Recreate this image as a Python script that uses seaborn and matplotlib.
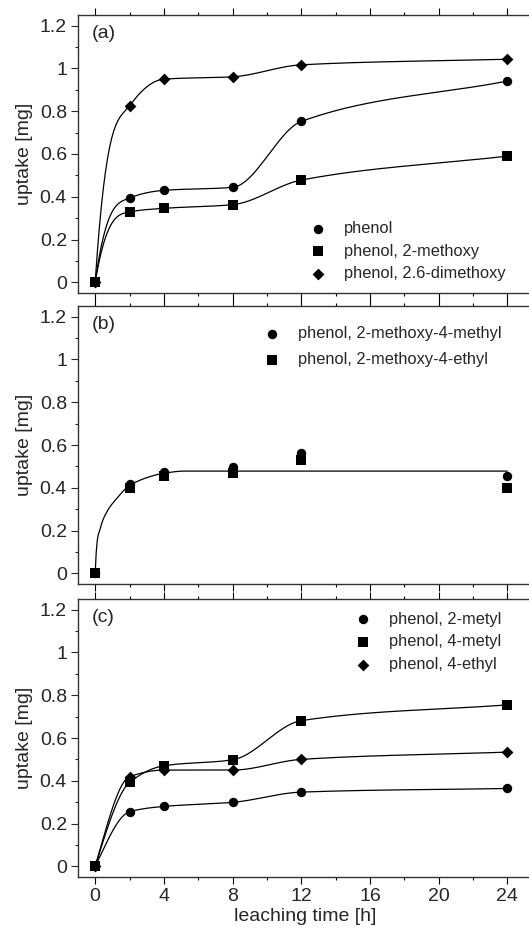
import numpy as np
import matplotlib
matplotlib.use("Agg")
import matplotlib.pyplot as plt
import seaborn as sns

# ---------------- data ----------------
time_h = [0, 2, 4, 8, 12, 24]

# panel (a)
a_phenol = [0, 0.394, 0.430, 0.444, 0.752, 0.941]
a_methoxy = [0, 0.329, 0.346, 0.363, 0.478, 0.590]
a_dimethoxy = [0, 0.826, 0.950, 0.961, 1.017, 1.043]

# panel (b)
b_methoxy_methyl = [0, 0.418, 0.476, 0.498, 0.563, 0.457]
b_methoxy_ethyl = [0, 0.397, 0.454, 0.467, 0.529, 0.397]
# fitted curve of panel (b), nodes
b_fit_x = [0, 0.3, 0.7, 1.2, 2, 3, 4, 5.2, 24]
b_fit_y = [0, 0.21, 0.29, 0.345, 0.41, 0.447, 0.468, 0.478, 0.478]

# panel (c)
c_2metyl = [0, 0.255, 0.280, 0.299, 0.347, 0.364]
c_4metyl = [0, 0.392, 0.470, 0.498, 0.681, 0.755]
c_4ethyl = [0, 0.419, 0.450, 0.450, 0.500, 0.534]

x_ticks = [0, 4, 8, 12, 16, 20, 24]
y_ticks = [0, 0.2, 0.4, 0.6, 0.8, 1.0, 1.2]
y_tick_labels = ["0", "0.2", "0.4", "0.6", "0.8", "1", "1.2"]


def hermite_curve(x, y, n=400, start_alpha=2.9):
    """Monotone cubic Hermite (PCHIP-like) with adjustable start slope."""
    x = np.asarray(x, float)
    y = np.asarray(y, float)
    h = np.diff(x)
    d = np.diff(y) / h
    m = np.zeros_like(x)
    for k in range(1, len(x) - 1):
        if d[k - 1] * d[k] <= 0:
            m[k] = 0.0
        else:
            w1 = 2 * h[k] + h[k - 1]
            w2 = h[k] + 2 * h[k - 1]
            m[k] = (w1 + w2) / (w1 / d[k - 1] + w2 / d[k])
    beta = m[1] / d[0] if d[0] != 0 else 0
    m[0] = d[0] * min(start_alpha, np.sqrt(max(9 - beta ** 2, 0)))
    m[-1] = d[-1]
    xs = np.linspace(x[0], x[-1], n)
    ys = np.empty_like(xs)
    idx = np.clip(np.searchsorted(x, xs, side="right") - 1, 0, len(x) - 2)
    for j, (xv, i) in enumerate(zip(xs, idx)):
        t = (xv - x[i]) / h[i]
        h00 = 2 * t**3 - 3 * t**2 + 1
        h10 = t**3 - 2 * t**2 + t
        h01 = -2 * t**3 + 3 * t**2
        h11 = t**3 - t**2
        ys[j] = h00 * y[i] + h10 * h[i] * m[i] + h01 * y[i + 1] + h11 * h[i] * m[i + 1]
    return xs, ys


sns.set_style("ticks")
plt.rcParams["font.family"] = ["Liberation Sans", "DejaVu Sans"]

W, H = 529, 930
fig = plt.figure(figsize=(W / 100, H / 100), dpi=100)

left_px = 78
right_px = 533
panels_px = [(15, 293), (306, 584), (599, 877)]
axes = []
for top, bot in panels_px:
    ax = fig.add_axes([left_px / W, 1 - bot / H, (right_px - left_px) / W, (bot - top) / H])
    axes.append(ax)

lw = 0.9
msz = {"o": 46, "s": 44, "D": 36}
fs_tick = 14
fs_leg = 11.8


def draw_series(ax, yvals, marker, label, curve=True, alpha0=2.9):
    if curve:
        xs, ys = hermite_curve(time_h, yvals, start_alpha=alpha0)
        sns.lineplot(x=xs, y=ys, ax=ax, color="black", lw=lw, estimator=None, sort=False)
    sns.scatterplot(x=time_h, y=yvals, ax=ax, marker=marker, s=msz[marker],
                    color="black", edgecolor="black", linewidth=0, label=label, zorder=5)


leg_kw = dict(frameon=False, fontsize=fs_leg, handletextpad=1.0, borderpad=0,
              handlelength=1.2, borderaxespad=0)

# panel a
ax = axes[0]
draw_series(ax, a_phenol, "o", "phenol")
draw_series(ax, a_methoxy, "s", "phenol, 2-methoxy")
draw_series(ax, a_dimethoxy, "D", "phenol, 2.6-dimethoxy")
ax.legend(loc="upper left", bbox_to_anchor=(0.505, 0.259), labelspacing=0.47, **leg_kw)

# panel b
ax = axes[1]
fx, fy = hermite_curve(b_fit_x, b_fit_y, start_alpha=2.9)
sns.lineplot(x=fx, y=fy, ax=ax, color="black", lw=lw, estimator=None, sort=False)
draw_series(ax, b_methoxy_methyl, "o", "phenol, 2-methoxy-4-methyl", curve=False)
draw_series(ax, b_methoxy_ethyl, "s", "phenol, 2-methoxy-4-ethyl", curve=False)
ax.legend(loc="upper left", bbox_to_anchor=(0.404, 0.927), labelspacing=0.66, **leg_kw)

# panel c
ax = axes[2]
draw_series(ax, c_2metyl, "o", "phenol, 2-metyl", alpha0=1.3)
draw_series(ax, c_4metyl, "s", "phenol, 4-metyl", alpha0=1.3)
draw_series(ax, c_4ethyl, "D", "phenol, 4-ethyl", alpha0=1.3)
ax.legend(loc="upper left", bbox_to_anchor=(0.604, 0.954), labelspacing=0.47, **leg_kw)

labels = ["(a)", "(b)", "(c)"]
for i, ax in enumerate(axes):
    ax.set_xlim(-1, 25.5)
    ax.set_ylim(-0.05, 1.25)
    ax.set_xticks(x_ticks)
    ax.set_xticks([2, 6, 10, 14, 18, 22], minor=True)
    ax.set_yticks(y_ticks)
    ax.set_yticklabels(y_tick_labels)
    ax.set_yticks(np.arange(0.1, 1.25, 0.2), minor=True)
    ax.tick_params(axis="x", which="both", top=True, bottom=True, direction="out",
                   labelsize=fs_tick, width=0.8, color="black", pad=3)
    ax.tick_params(axis="x", which="major", length=5)
    ax.tick_params(axis="x", which="minor", length=2.5)
    ax.tick_params(axis="y", which="major", length=5, width=0.8, labelsize=fs_tick, pad=3,
                   direction="out")
    ax.tick_params(axis="y", which="minor", length=2.5, width=0.8, direction="out")
    if i < 2:
        ax.tick_params(axis="x", labelbottom=False)
    for sp in ax.spines.values():
        sp.set_linewidth(1.0)
        sp.set_color("#333333")
    ax.set_ylabel("uptake [mg]", fontsize=fs_tick, labelpad=5)
    ax.set_xlabel("")
    ax.text(0.03, 0.963, labels[i], transform=ax.transAxes, ha="left", va="top",
            fontsize=fs_tick)

axes[2].set_xlabel("leaching time [h]", fontsize=fs_tick, labelpad=2)

fig.savefig("out.png", dpi=100)
